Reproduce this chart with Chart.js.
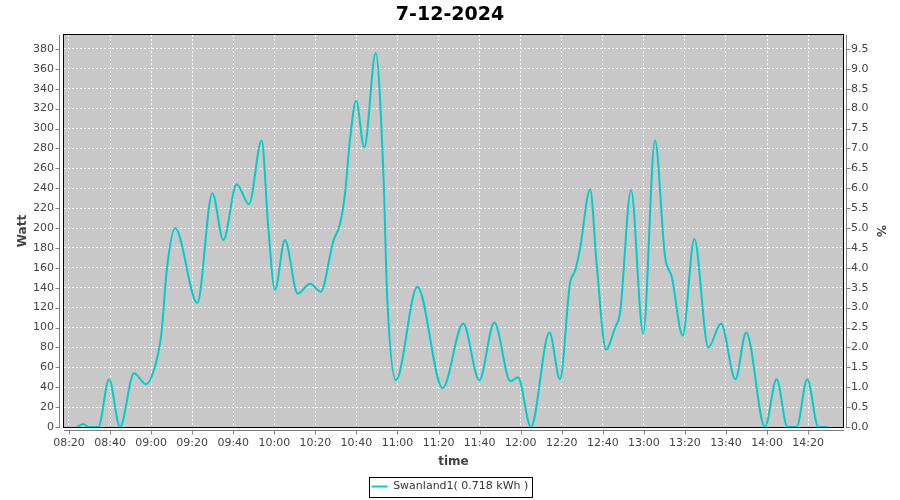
<!DOCTYPE html>
<html><head><meta charset="utf-8">
<script src="https://cdn.jsdelivr.net/npm/chart.js@4/dist/chart.umd.min.js"></script>
<style>html,body{margin:0;padding:0;background:#fff}#wrap{width:900px;height:500px}</style>
</head><body><div id="wrap"><canvas id="c" width="900" height="500"></canvas></div>
<script>
const chartTitle = '7-12-2024';
const seriesLabel = 'Swanland1( 0.718 kWh )';
const xTitle = 'time';
const yTitle = 'Watt';
const y2Title = '%';

const times = [
 '08:23:45','08:27:00','08:29:24','08:34:18','08:39:30','08:44:50','08:51:40','08:57:30',
 '09:02:40','09:05:10','09:07:35','09:11:40','09:22:30','09:29:50','09:35:10','09:41:40',
 '09:47:40','09:53:50','09:57:05','10:00:20','10:05:10','10:11:25','10:17:25','10:22:35',
 '10:28:45','10:32:00','10:34:25','10:36:50','10:39:50','10:43:50','10:49:25','10:53:05',
 '10:55:00','10:59:15','11:09:40','11:22:00','11:32:00','11:39:50','11:47:10','11:55:00',
 '11:58:40','12:05:00','12:14:00','12:19:10','12:24:00','12:26:30','12:28:55','12:33:50',
 '12:37:00','12:41:35','12:46:00','12:48:25','12:53:45','12:59:40','13:05:25','13:10:20',
 '13:13:35','13:18:55','13:24:35','13:31:25','13:37:35','13:44:35','13:49:50','13:59:00',
 '14:04:40','14:09:55','14:14:25','14:19:35','14:25:00','14:29:40'
];
const watts = [
 0,3,0,0,48,0,54,43,
 67,97,157,200,125,235,188,244,
 224,288,200,138,188,134,144,136,
 187,204,234,288,328,281,376,258,
 130,47,141,39,104,47,105,46,
 50,0,95,48,144,157,179,239,
 164,78,100,115,238,94,288,171,
 151,92,189,80,104,48,95,0,
 48,0,0,48,0,0
];

const timeTickLabels = ['08:20','08:40','09:00','09:20','09:40','10:00','10:20','10:40','11:00','11:20','11:40','12:00','12:20','12:40','13:00','13:20','13:40','14:00','14:20'];
const wattTicks = [0,20,40,60,80,100,120,140,160,180,200,220,240,260,280,300,320,340,360,380];
const pctTicks = ['0.0','0.5','1.0','1.5','2.0','2.5','3.0','3.5','4.0','4.5','5.0','5.5','6.0','6.5','7.0','7.5','8.0','8.5','9.0','9.5'];
const xRange = ['08:17:34','14:37:00'];
const wattMax = 394;
const wattPerPercent = 40;

function toMin(s){const p=s.split(':').map(Number);return p[0]*60+p[1]+(p[2]||0)/60;}
const xTickValues = timeTickLabels.map(toMin);
const pctTickValues = pctTicks.map(Number);
const points = times.map((t,i)=>({x:toMin(t), y:watts[i]}));

Chart.defaults.font.family = "'DejaVu Sans', sans-serif";
const tickColor = '#444';

const plotBg = {
  id:'plotBg',
  beforeDraw(chart){
    const a=chart.chartArea, c=chart.ctx;
    c.save(); c.fillStyle='#C8C8C8'; c.fillRect(a.left,a.top,a.width,a.height); c.restore();
  },
  afterDraw(chart){
    const a=chart.chartArea, c=chart.ctx;
    c.save();
    c.strokeStyle='#000'; c.lineWidth=1;
    c.strokeRect(Math.round(a.left)-0.5, Math.round(a.top)-0.5, Math.round(a.width)+1, Math.round(a.height)+1);
    c.strokeStyle='#808080';
    const xl=Math.round(a.left)-4.5;
    c.beginPath(); c.moveTo(xl,a.top); c.lineTo(xl,a.bottom+1);
    chart.scales.y.ticks.forEach(t=>{const py=Math.round(chart.scales.y.getPixelForValue(t.value))+0.5; c.moveTo(xl-4,py); c.lineTo(xl,py);});
    const xr=Math.round(a.right)+3.5;
    c.moveTo(xr,a.top); c.lineTo(xr,a.bottom+1);
    chart.scales.y1.ticks.forEach(t=>{const py=Math.round(chart.scales.y1.getPixelForValue(t.value))+0.5; c.moveTo(xr,py); c.lineTo(xr+4,py);});
    const yb=Math.round(a.bottom)+3.5;
    c.moveTo(a.left,yb); c.lineTo(a.right+1,yb);
    chart.scales.x.ticks.forEach(t=>{const px=Math.round(chart.scales.x.getPixelForValue(t.value))+0.5; c.moveTo(px,yb); c.lineTo(px,yb+4);});
    c.stroke();
    const hb=chart.legend.legendHitBoxes[0];
    if(hb){
      c.strokeStyle='#000';
      const cy=hb.top+hb.height/2;
      c.strokeRect(Math.round(hb.left-3)+0.5, Math.round(cy-10)+0.5, Math.round(hb.width+6), 20);
    }
    c.restore();
  }
};

new Chart(document.getElementById('c'), {
  type:'line',
  data:{datasets:[{
    label:seriesLabel, data:points, yAxisID:'y',
    borderColor:'#00CCCC', backgroundColor:'#00CCCC', borderWidth:2,
    pointRadius:0, fill:false, cubicInterpolationMode:'monotone'
  }]},
  options:{
    responsive:false, animation:false, devicePixelRatio:1,
    layout:{padding:{left:0,right:0,top:0,bottom:-2}},
    plugins:{
      title:{display:true,text:chartTitle,color:'#000',font:{size:19,weight:'bold'},padding:{top:4,bottom:8.2}},
      legend:{position:'bottom',labels:{usePointStyle:true,pointStyle:'line',pointStyleWidth:16,color:'#333',font:{size:11},padding:10}},
      tooltip:{enabled:false}
    },
    scales:{
      x:{type:'linear',position:'bottom',min:toMin(xRange[0]),max:toMin(xRange[1]),
        afterBuildTicks:s=>{s.ticks=xTickValues.map(v=>({value:v}));},
        afterFit:s=>{s.height=44;},
        ticks:{callback:(v,i)=>timeTickLabels[i],color:tickColor,font:{size:11},padding:10,maxRotation:0,autoSkip:false},
        grid:{color:'#fff',drawTicks:false,lineWidth:1},
        border:{display:false,dash:[2,2]},
        title:{display:true,text:xTitle,color:'#444',font:{size:12,weight:'bold'},padding:{top:0,bottom:2}}
      },
      y:{type:'linear',position:'left',min:0,max:wattMax,
        afterBuildTicks:s=>{s.ticks=wattTicks.map(v=>({value:v}));},
        afterFit:s=>{s.width=64;},
        ticks:{callback:(v,i)=>String(wattTicks[i]),color:tickColor,font:{size:11},padding:10},
        grid:{color:'#fff',drawTicks:false,lineWidth:1},
        border:{display:false,dash:[2,2]},
        title:{display:true,text:yTitle,color:'#444',font:{size:12,weight:'bold'},padding:{top:16,bottom:0}}
      },
      y1:{type:'linear',position:'right',min:0,max:wattMax/wattPerPercent,
        afterBuildTicks:s=>{s.ticks=pctTickValues.map(v=>({value:v}));},
        afterFit:s=>{s.width=57;},
        ticks:{callback:(v,i)=>pctTicks[i],color:tickColor,font:{size:11},padding:8},
        grid:{display:false,drawTicks:false},
        border:{display:false},
        title:{display:true,text:y2Title,color:'#444',font:{size:12,weight:'bold'},padding:{top:13,bottom:0}}
      }
    }
  },
  plugins:[plotBg]
});
</script></body></html>
